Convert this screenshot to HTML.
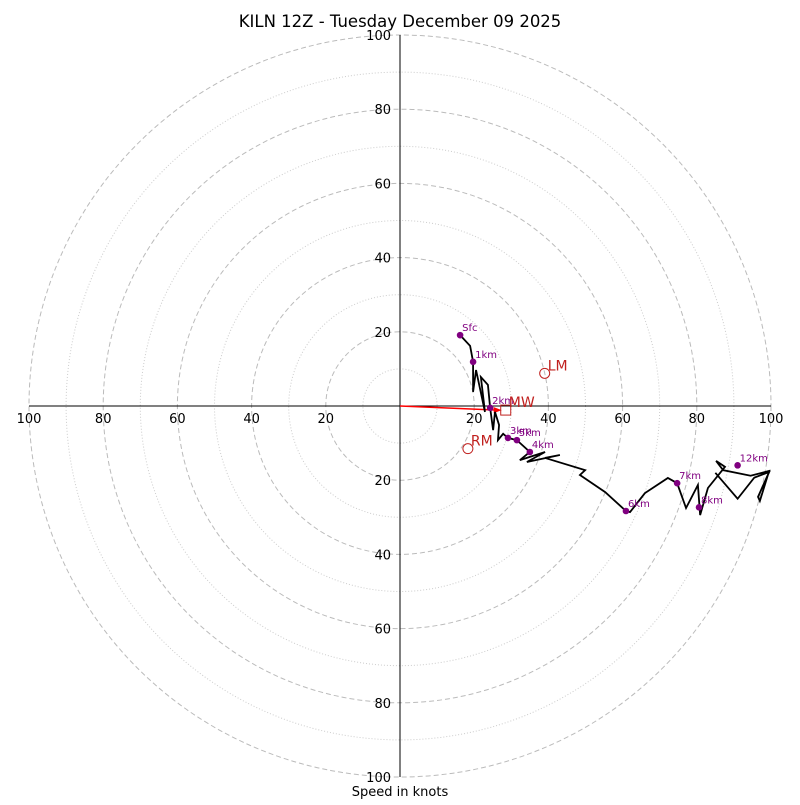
<!DOCTYPE html>
<html><head><meta charset="utf-8"><style>
body{margin:0;background:#fff}
svg text{font-family:"DejaVu Sans","Liberation Sans",sans-serif}
</style></head><body>
<svg id="c" width="800" height="800" xmlns="http://www.w3.org/2000/svg"></svg>
<script>
const ringsMajor=[20,40,60,80,100];
const ringsMinor=[10,30,50,70,90];
const tickLabels=[20,40,60,80,100];
const traceU=[16.2,18.9,19.7,19.7,20.5,22.9,21.8,23.7,24.3,25.1,25.6,26.7,26.4,27.8,29.1,31.5,35,32.3,39.1,34.2,43.1,39.1,49.9,48.5,55.3,60.9,62,66,72.2,74.7,77.1,80.3,80.9,83,87.6,85.2,87.1,94.5,99.5,97,96.5,99.5,95.5,91,85];
const traceV=[19.1,16.2,11.9,3.8,9.7,-1.6,7.8,5.7,-0.5,-6.5,-1.6,-5.1,-9.2,-7.5,-8.6,-9.2,-12.4,-14.6,-12.4,-15.1,-13.2,-14,-17.3,-18.6,-23.2,-28.3,-28.6,-23.5,-19.4,-20.8,-27.5,-21.3,-29.4,-22.1,-16.4,-14.8,-17.3,-18.8,-17.5,-25.6,-24.5,-17.8,-19.3,-25,-18];
const markLabels=["Sfc","1km","2km","3km","5km","4km","6km","7km","8km","12km"];
const markU=[16.2,19.7,24.3,29.1,31.5,35,60.9,74.7,80.6,91];
const markV=[19.1,11.9,-0.5,-8.6,-9.2,-12.4,-28.3,-20.8,-27.3,-16];
const motionLabels=["LM","RM","MW"];
const motionU=[39,18.3,28.5];
const motionV=[8.8,-11.5,-1.1];

const cx=400,cy=406,s=3.71;
const X=u=>cx+u*s, Y=v=>cy-v*s;
const svg=document.getElementById('c');
const NS='http://www.w3.org/2000/svg';
function mk(t,a,p){const e=document.createElementNS(NS,t);for(const k in a)e.setAttribute(k,a[k]);(p||svg).appendChild(e);return e;}

for(const r of ringsMinor){const e=mk('circle',{cx:cx,cy:cy,r:r*s,fill:'none',stroke:'#ccc','stroke-width':1,'stroke-dasharray':'1,2'});

}
for(const r of ringsMajor){const e=mk('circle',{cx:cx,cy:cy,r:r*s,fill:'none',stroke:'#bbb','stroke-width':1,'stroke-dasharray':'5,3'});

}
const ax=mk('line',{x1:X(-100),y1:cy,x2:X(100),y2:cy,stroke:'#000','stroke-width':1});


const ay=mk('line',{x1:cx,y1:Y(100),x2:cx,y2:Y(-100),stroke:'#000','stroke-width':1});


for(const t of tickLabels){
 for(const sg of [-1,1]){
  const a=mk('text',{x:X(sg*t),y:cy+17,'text-anchor':'middle','font-size':13});a.textContent=t;
  
  
  const b=mk('text',{x:cx-9,y:Y(sg*t)+5,'text-anchor':'end','font-size':13});b.textContent=t;
  
  
 }
}
const mw=motionU[2],mv=motionV[2];
const ar=mk('line',{x1:cx,y1:cy,x2:X(mw)-8,y2:Y(mv),stroke:'red','stroke-width':1.5});


const ah=mk('polygon',{points:`${X(mw)-4},${Y(mv)} ${X(mw)-12},${Y(mv)-3} ${X(mw)-12},${Y(mv)+3}`,fill:'red'});



const pts=traceU.map((u,i)=>X(u)+','+Y(traceV[i])).join(' ');
const tr=mk('polyline',{points:pts,fill:'none',stroke:'#000','stroke-width':1.8,'stroke-linejoin':'miter'});



markLabels.forEach((l,i)=>{
 const d=mk('circle',{cx:X(markU[i]),cy:Y(markV[i]),r:3.3,fill:'#800080'});
 
 
 const t=mk('text',{x:X(markU[i])+2,y:Y(markV[i])-4,'font-size':10,fill:'#800080'});t.textContent=l;
 
 
});
motionLabels.forEach((l,i)=>{
 const x=X(motionU[i]),y=Y(motionV[i]);
 let m;
 if(l==='MW'){m=mk('rect',{x:x-5,y:y-5,width:10,height:10,fill:'none',stroke:'#c0201e','stroke-width':1});}
 else{m=mk('circle',{cx:x,cy:y,r:5,fill:'none',stroke:'#c0201e','stroke-width':1});}
 
 
 const t=mk('text',{x:x+3,y:y-3,'font-size':14,fill:'#c0201e'});t.textContent=l;
 
 
});
const ti=mk('text',{x:400,y:27,'text-anchor':'middle','font-size':16.5});ti.textContent='KILN 12Z - Tuesday December 09 2025';


const xl=mk('text',{x:400,y:796,'text-anchor':'middle','font-size':13});xl.textContent='Speed in knots';


</script>
</body></html>
